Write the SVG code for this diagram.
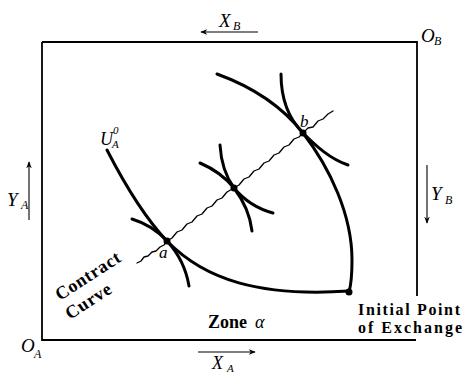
<svg xmlns="http://www.w3.org/2000/svg" width="464" height="373" viewBox="0 0 464 373">
<style>
.box{fill:none;stroke:#000;stroke-width:1.8}
.ic{fill:none;stroke:#000;stroke-width:3;stroke-linecap:round}
.cc{fill:none;stroke:#000;stroke-width:1.3;stroke-linejoin:round;stroke-linecap:round}
.ax{fill:none;stroke:#000;stroke-width:1.1}
.it{font-family:"Liberation Serif",serif;font-style:italic;fill:#000}
.bd{font-family:"Liberation Serif",serif;font-weight:bold;fill:#000;font-size:18px}
.ip{font-family:"Liberation Serif",serif;font-weight:bold;fill:#000;font-size:16px}
.dot{fill:#000}
</style>
<defs>
<marker id="ah" viewBox="0 0 10 10" refX="9" refY="5" markerWidth="7" markerHeight="7" markerUnits="userSpaceOnUse" orient="auto">
<path d="M0,1 L10,5 L0,9 L3,5 Z" fill="#000"/>
</marker>
</defs>
<g id="box">
<path class="box" d="M42,42 H417 V296"/>
<path class="box" d="M42,42 V340 H416"/>
</g>
<g id="axes">
<line class="ax" x1="258" y1="32" x2="201" y2="32" marker-end="url(#ah)"/>
<line class="ax" x1="198" y1="352" x2="255" y2="352" marker-end="url(#ah)"/>
<line class="ax" x1="29" y1="220" x2="29" y2="162" marker-end="url(#ah)"/>
<line class="ax" x1="427" y1="165" x2="427" y2="223" marker-end="url(#ah)"/>
</g>
<g id="connectors">
<path id="UA0" class="ic" d="M107,150 C125,185 145,218 167,241 C205,280 260,297 349,291"/>
<path id="B-a" class="ic" d="M132,219 C145,223 158,231 167,241 C178,253 186,268 189,286"/>
<path id="A-mid" class="ic" d="M220,145 C221,162 226,177 234,188 C244,200 258,209 273,213"/>
<path id="B-mid" class="ic" d="M200,163 C214,169 226,178 234,188 C243,200 250,213 252,231"/>
<path id="A-b" class="ic" d="M281,74 C281,98 289,119 303,133 C316,146 330,159 348,165"/>
<path id="B-b" class="ic" d="M217,74 C250,86 281,105 303,133 C330,168 352,215 352,260 C352,275 351,285 349,292"/>
<path id="contract" class="cc" d="M137,263 L141,261 L144,257 L148,256 L152,252 L156,251 L160,247 L164,245 L167,241 L172,238 L177,232 L182,230 L187,224 L192,222 L197,216 L202,214 L207,208 L212,206 L217,200 L222,198 L227,192 L234,188 L239,185 L244,179 L249,177 L254,171 L259,169 L264,163 L269,161 L274,155 L279,153 L284,147 L289,145 L294,139 L299,137 L303,133 L308,128 L313,127 L318,121 L323,119 L328,114 L333,111"/>
</g>
<g id="point-a"><circle class="dot" cx="167" cy="241" r="3.5"/><text class="it" x="159" y="258" font-size="17">a</text></g>
<g id="point-mid"><circle class="dot" cx="234" cy="188" r="3.5"/></g>
<g id="point-b"><circle class="dot" cx="303" cy="133" r="3.5"/><text class="it" x="300" y="127" font-size="17">b</text></g>
<g id="point-initial"><circle class="dot" cx="349" cy="292" r="3.5"/>
<text class="ip" x="358" y="315" textLength="102" lengthAdjust="spacing">Initial Point</text>
<text class="ip" x="358" y="333" textLength="104" lengthAdjust="spacing">of Exchange</text></g>
<g id="labels">
<text class="it" x="100" y="145" font-size="18">U</text>
<text class="it" x="113" y="134" font-size="11">0</text>
<text class="it" x="112" y="148" font-size="11">A</text>
<text class="it" x="219" y="27" font-size="19">X</text>
<text class="it" x="233" y="30" font-size="12">B</text>
<text class="it" x="421" y="42" font-size="19">O</text>
<text class="it" x="434" y="45" font-size="12">B</text>
<text class="it" x="7" y="206" font-size="19">Y</text>
<text class="it" x="21" y="209" font-size="12">A</text>
<text class="it" x="431" y="200" font-size="19">Y</text>
<text class="it" x="445" y="204" font-size="12">B</text>
<text class="it" x="21" y="352" font-size="19">O</text>
<text class="it" x="34" y="358" font-size="12">A</text>
<text class="it" x="212" y="369" font-size="18">X</text>
<text class="it" x="227" y="372" font-size="11">A</text>
<text class="bd" x="208" y="328">Zone</text>
<text class="it" x="255" y="328" font-size="18">α</text>
<text class="bd" x="60" y="301" letter-spacing="0.7" transform="rotate(-33 60 301)">Contract</text>
<text class="bd" x="70" y="320" letter-spacing="0.8" transform="rotate(-33 70 320)">Curve</text>
</g>
</svg>
